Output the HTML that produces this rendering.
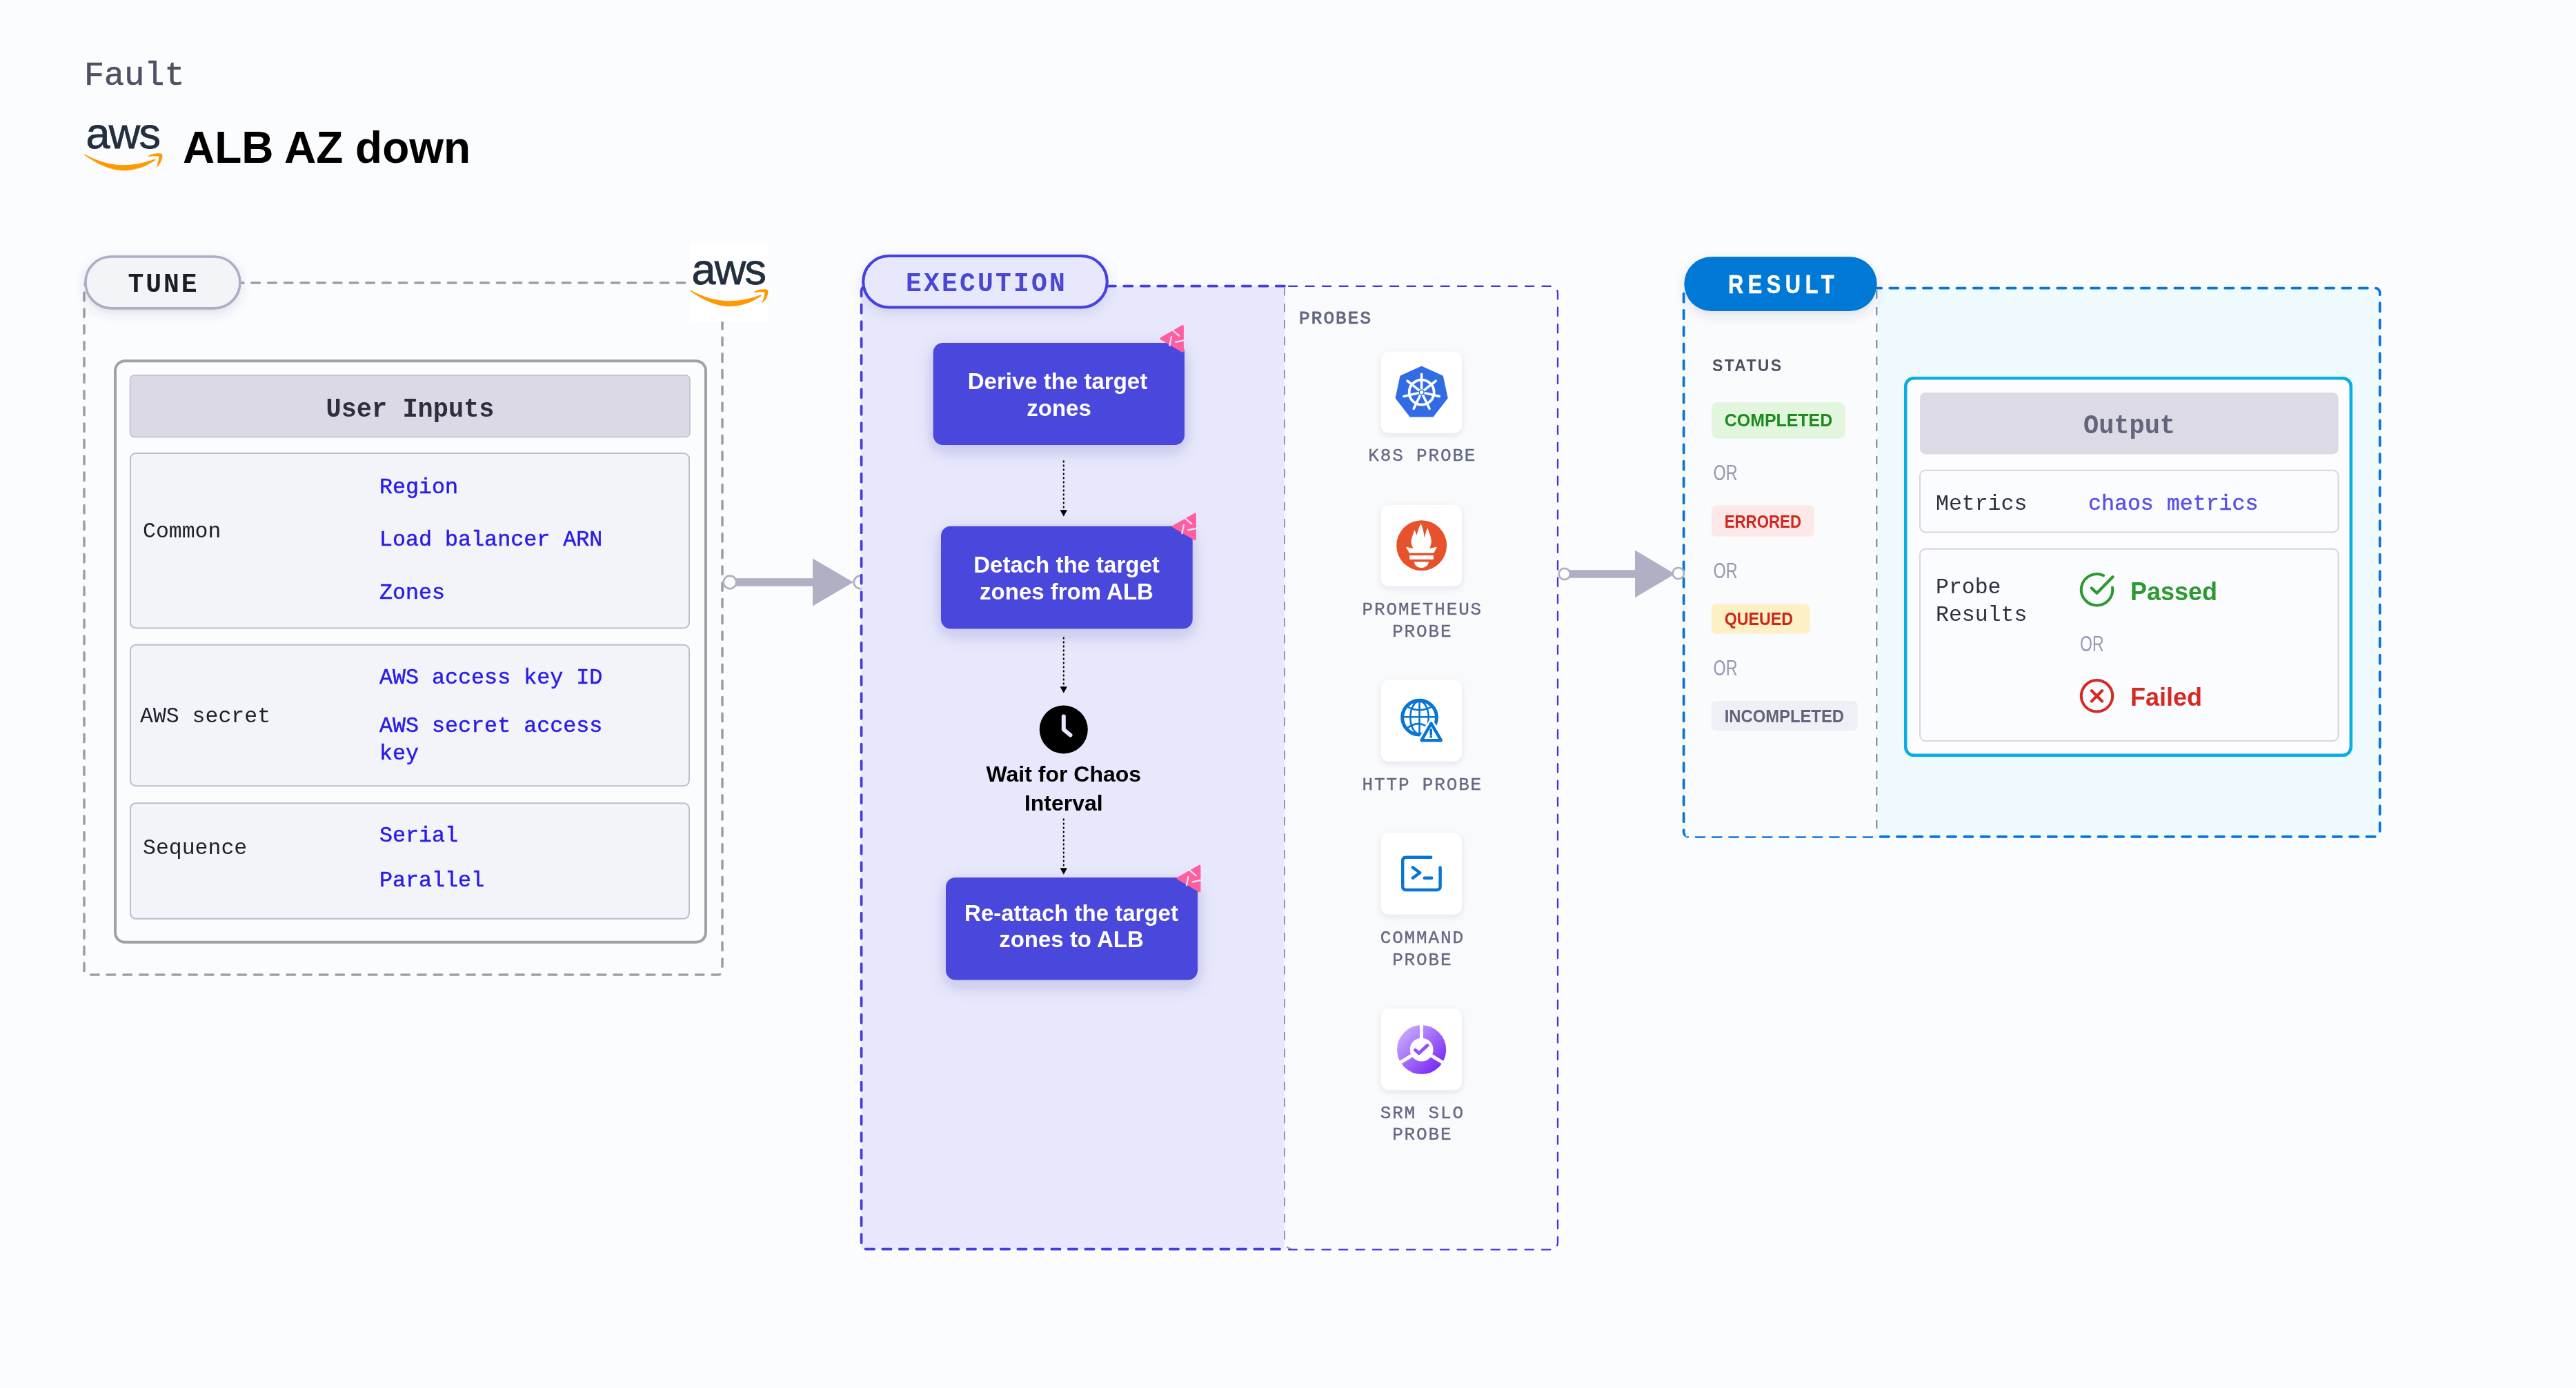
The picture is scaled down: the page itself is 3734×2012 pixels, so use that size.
<!DOCTYPE html>
<html><head><meta charset="utf-8">
<style>
html,body{margin:0;padding:0;width:3734px;height:2012px;overflow:hidden;background:#fbfcfe;}
svg{display:block;position:absolute;left:0;top:0;will-change:transform;}
.m{font-family:"Liberation Mono",monospace;}
.s{font-family:"Liberation Sans",sans-serif;}
</style></head>
<body>
<svg width="3734" height="2012" viewBox="0 0 3734 2012">
<defs>
 <filter id="sh" x="-30%" y="-30%" width="160%" height="170%">
  <feDropShadow dx="0" dy="6" stdDeviation="8" flood-color="#3a3a6a" flood-opacity="0.14"/>
 </filter>
 <filter id="shb" x="-30%" y="-30%" width="160%" height="170%">
  <feDropShadow dx="0" dy="8" stdDeviation="12" flood-color="#2a2a90" flood-opacity="0.22"/>
 </filter>
 <filter id="shc" x="-30%" y="-30%" width="160%" height="170%">
  <feDropShadow dx="0" dy="3" stdDeviation="4" flood-color="#404060" flood-opacity="0.10"/>
 </filter>
</defs>
<rect x="0" y="0" width="3734" height="2012" fill="#fbfcfe"/>

<!-- HEADER -->
<text class="m" x="122" y="123" font-size="48.5" fill="#504f63" stroke="#504f63" stroke-width="0.6">Fault</text>
<g id="awsbig">
 <text class="s" x="124.5" y="215.3" font-size="63" fill="#232f3e" letter-spacing="-1.8" stroke="#232f3e" stroke-width="0.8">aws</text>
 <g transform="translate(115,170) scale(0.061237)" fill="#ff9900">
  <path d="M120,895 C400,1100 750,1262 1040,1262 C1350,1262 1620,1140 1800,1015 C1812,1000 1795,982 1772,992 C1500,1100 1250,1130 1030,1130 C700,1130 400,1020 140,880 C125,872 110,885 120,895 Z"/>
  <path d="M1620,925 C1700,870 1800,850 1900,855 C1950,858 1972,880 1966,930 C1952,1030 1905,1120 1820,1192 C1850,1100 1878,1010 1883,955 C1886,928 1870,920 1840,920 C1760,918 1700,925 1620,935 Z"/>
 </g>
</g>
<text class="s" x="265" y="236" font-size="64" font-weight="bold" fill="#000">ALB AZ down</text>

<!-- TUNE -->
<rect x="122" y="410" width="925" height="1003" rx="6" fill="none" stroke="#9aa0a6" stroke-width="3.6" stroke-dasharray="11.5 12.2" stroke-linecap="round"/>
<rect x="123.9" y="372" width="224" height="74.8" rx="37.4" fill="#f3f4f8" stroke="#aeadc3" stroke-width="3.7" filter="url(#sh)"/>
<text class="m" x="237" y="423.2" font-size="38" font-weight="bold" fill="#1c1c24" text-anchor="middle" letter-spacing="3">TUNE</text>
<rect x="1000" y="352" width="113" height="114" fill="#ffffff"/>
<g id="awssmall">
 <use href="#awsbig" transform="translate(878,197)"/>
</g>

<rect x="167" y="523.3" width="856" height="842.5" rx="14" fill="none" stroke="#9ca2a7" stroke-width="4"/>
<rect x="188.5" y="544" width="811.5" height="89.5" rx="6" fill="#dad9e5" stroke="#bdbcd0" stroke-width="1.5"/>
<text class="m" x="472.5" y="603.5" font-size="39.5" font-weight="bold" fill="#2f2e3e" textLength="244" lengthAdjust="spacingAndGlyphs">User Inputs</text>

<rect x="189" y="657" width="810" height="253.5" rx="8" fill="#f3f4f9" stroke="#bdbccd" stroke-width="2"/>
<rect x="189" y="934.7" width="810" height="204.5" rx="8" fill="#f3f4f9" stroke="#bdbccd" stroke-width="2"/>
<rect x="189" y="1164.2" width="810" height="167.6" rx="8" fill="#f3f4f9" stroke="#bdbccd" stroke-width="2"/>
<g class="m" font-size="31.5" fill="#1f1f29">
 <text x="207" y="779">Common</text>
 <text x="203" y="1047.4">AWS secret</text>
 <text x="207" y="1237.5">Sequence</text>
</g>
<g class="m" font-size="31.7" fill="#2a1ce6" stroke="#2a1ce6" stroke-width="0.5" transform="translate(1,-0.8)">
 <text x="549" y="716">Region</text>
 <text x="549" y="792">Load balancer ARN</text>
 <text x="549" y="869">Zones</text>
 <text x="549" y="991.5">AWS access key ID</text>
 <text x="549" y="1061.6">AWS secret access</text>
 <text x="549" y="1102">key</text>
 <text x="549" y="1220.5">Serial</text>
 <text x="549" y="1286">Parallel</text>
</g>

<!-- ARROW 1 -->
<rect x="1066" y="838.2" width="114" height="11.6" fill="#b0b0c5"/>
<path d="M1178,809.5 L1237,844 L1178,878.4 Z" fill="#b0b0c5"/>
<circle cx="1058" cy="844" r="9.3" fill="#fcfcfd" stroke="#b0b0c5" stroke-width="2.7"/>
<circle cx="1247" cy="844" r="9.3" fill="#fcfcfd" stroke="#b0b0c5" stroke-width="2.7"/>

<!-- EXECUTION -->
<rect x="1248.6" y="414.6" width="613.4" height="1396" fill="#e8e8fc"/>
<rect x="1862" y="414.6" width="395.6" height="1396.1" rx="7" fill="#f9fafc"/>
<path d="M1862,414.6 L1256.6,414.6 Q1248.6,414.6 1248.6,422.6 L1248.6,1802.7 Q1248.6,1810.7 1256.6,1810.7 L1862,1810.7" fill="none" stroke="#433ddb" stroke-width="3.7" stroke-dasharray="12.3 12.2" stroke-linecap="round"/>
<path d="M1868,414.8 L2248,414.8 A10,10 0 0 1 2258,424.8 L2258,1801.4 A10,10 0 0 1 2248,1811.4 L1868,1811.4" fill="none" stroke="#3d36d8" stroke-width="2.3" stroke-dasharray="12.3 12.2" stroke-linecap="round"/>
<path d="M1862,416 L1862,1800 A10,10 0 0 0 1872,1810" fill="none" stroke="#9496a6" stroke-width="2" stroke-dasharray="12.5 11.5"/>
<rect x="1251.2" y="371" width="353.6" height="74.5" rx="37.25" fill="#e8e8fc" stroke="#4743dc" stroke-width="4.2" filter="url(#sh)"/>
<text class="m" x="1428" y="421.8" font-size="38" font-weight="bold" fill="#4a46d6" text-anchor="middle" letter-spacing="3.2" transform="translate(2,0)">EXECUTION</text>

<g filter="url(#shb)">
<rect x="1352.7" y="497" width="364.3" height="148" rx="14" fill="#4a47dc"/>
<rect x="1364" y="762.7" width="364.7" height="148.8" rx="14" fill="#4a47dc"/>
<rect x="1371" y="1272" width="365" height="148.5" rx="14" fill="#4a47dc"/>
</g>
<g class="s" font-size="33" font-weight="bold" fill="#ffffff" text-anchor="middle">
 <text x="1533" y="564">Derive the target</text>
 <text x="1535" y="603">zones</text>
 <text x="1546" y="830">Detach the target</text>
 <text x="1546" y="869">zones from ALB</text>
 <text x="1553" y="1334.6">Re-attach the target</text>
 <text x="1553" y="1373">zones to ALB</text>
</g>
<g id="pink1" transform="translate(1699.6,490.5)">
 <path d="M-16.5,0.2 L14.5,-17.5 L14.5,18.5 Z" fill="#ff5fa0" stroke="#ff5fa0" stroke-width="3.6" stroke-linejoin="round"/>
 <path d="M-2.5,-14 L9.7,-3.7 M-1.6,-2.4 L-4.2,10.5 M4.5,5.4 L18,2.6" stroke="#e6e6fb" stroke-width="2.2" stroke-linecap="round"/>
</g>
<use href="#pink1" transform="translate(18,272.5)"/>
<use href="#pink1" transform="translate(24.5,782.5)"/>

<g stroke="#000" stroke-width="2" stroke-dasharray="3 3">
 <line x1="1541.8" y1="667.5" x2="1541.8" y2="740"/>
 <line x1="1541.8" y1="923.6" x2="1541.8" y2="996"/>
 <line x1="1541.8" y1="1186.6" x2="1541.8" y2="1259"/>
</g>
<g fill="#000">
 <path d="M1536.6,739.3 L1547,739.3 L1541.8,748.8 Z"/>
 <path d="M1536.6,995.2 L1547,995.2 L1541.8,1004.7 Z"/>
 <path d="M1536.6,1258.3 L1547,1258.3 L1541.8,1267.8 Z"/>
</g>
<circle cx="1541.8" cy="1057.5" r="35" fill="#000"/>
<path d="M1541.8,1038.5 L1541.8,1057.5 L1551.5,1065.5" fill="none" stroke="#e8e8fc" stroke-width="6" stroke-linecap="round" stroke-linejoin="round"/>
<g class="s" font-size="32" font-weight="bold" fill="#000" text-anchor="middle">
 <text x="1541.8" y="1133">Wait for Chaos</text>
 <text x="1541.8" y="1175.3">Interval</text>
</g>

<!-- PROBES -->
<text class="m" x="1883" y="469.4" font-size="26" fill="#636781" stroke="#636781" stroke-width="0.9" letter-spacing="2.1">PROBES</text>
<g fill="#ffffff" filter="url(#shc)">
 <rect x="2001.7" y="509.8" width="117.3" height="118" rx="12"/>
 <rect x="2001.7" y="732" width="117.3" height="118" rx="12"/>
 <rect x="2001.7" y="985.6" width="117.3" height="118" rx="12"/>
 <rect x="2001.7" y="1207.6" width="117.3" height="118" rx="12"/>
 <rect x="2001.7" y="1462" width="117.3" height="118" rx="12"/>
</g>
<g class="m" font-size="26" fill="#646882" stroke="#646882" stroke-width="0.35" text-anchor="middle" letter-spacing="1.85" transform="translate(0,-0.8)">
 <text x="2061.8" y="669.2">K8S PROBE</text>
 <text x="2061.8" y="891.6">PROMETHEUS</text>
 <text x="2061.8" y="924">PROBE</text>
 <text x="2061.8" y="1145.9">HTTP PROBE</text>
 <text x="2061.8" y="1367.9">COMMAND</text>
 <text x="2061.8" y="1400">PROBE</text>
 <text x="2061.8" y="1621.4">SRM SLO</text>
 <text x="2061.8" y="1653">PROBE</text>
</g>
<defs>
 <linearGradient id="srmg" x1="0" y1="0" x2="1" y2="1">
  <stop offset="0" stop-color="#c6a6fd"/>
  <stop offset="1" stop-color="#7a2af6"/>
 </linearGradient>
</defs>
<!-- k8s -->
<g transform="translate(2000,508) scale(0.087896)">
 <path d="M690,270 L1035,425 L1112,785 L876,1088 L504,1088 L268,785 L345,425 Z" fill="#326ce5" stroke="#326ce5" stroke-width="22" stroke-linejoin="round"/>
 <circle cx="690" cy="690" r="205" fill="none" stroke="#fff" stroke-width="42"/>
 <circle cx="690" cy="690" r="28" fill="#fff"/>
 <g stroke="#fff" stroke-width="40" stroke-linecap="round">
  <line x1="690" y1="690" x2="690" y2="390"/>
  <line x1="690" y1="690" x2="924.5" y2="503"/>
  <line x1="690" y1="690" x2="982.5" y2="756.8"/>
  <line x1="690" y1="690" x2="820.2" y2="960.3"/>
  <line x1="690" y1="690" x2="559.8" y2="960.3"/>
  <line x1="690" y1="690" x2="397.5" y2="756.8"/>
  <line x1="690" y1="690" x2="455.5" y2="503"/>
 </g>
 <circle cx="690" cy="690" r="48" fill="#326ce5"/>
 <circle cx="690" cy="690" r="30" fill="#fff"/>
</g>
<!-- prometheus -->
<g transform="translate(2000,730) scale(0.087896)">
 <circle cx="690" cy="692" r="415" fill="#e6522c"/>
 <path d="M430,715 L555,740 C515,680 510,620 530,560 C545,510 565,470 570,430 C590,470 605,500 608,530 C625,450 650,380 680,330 C710,400 730,480 735,570 C750,500 770,450 785,400 C815,470 850,550 850,620 C850,670 835,710 820,740 L945,715 L890,815 L490,815 Z" fill="#fff"/>
 <rect x="492" y="855" width="393" height="66" fill="#fff"/>
 <path d="M568,960 L806,960 A119,100 0 0 1 568,960 Z" fill="#fff"/>
</g>
<!-- web probe -->
<g transform="translate(2000,984) scale(0.087896)" fill="none" stroke="#0675d3" stroke-linecap="round">
 <circle cx="655" cy="638" r="283" stroke-width="56"/>
 <ellipse cx="655" cy="638" rx="150" ry="270" stroke-width="30"/>
 <line x1="655" y1="380" x2="655" y2="900" stroke-width="30"/>
 <line x1="385" y1="628" x2="930" y2="628" stroke-width="30"/>
 <path d="M475,470 Q655,560 835,470" stroke-width="30"/>
 <path d="M470,800 Q620,700 745,770" stroke-width="30"/>
 <path d="M848,690 L640,1045 L1070,1045 Z" fill="#fff" stroke="#fff" stroke-width="60" stroke-linejoin="round"/>
 <path d="M848,735 L688,1015 L1010,1015 Z" fill="#fff" stroke-width="50" stroke-linejoin="round"/>
 <line x1="845" y1="840" x2="845" y2="915" stroke-width="40"/>
 <circle cx="845" cy="955" r="12" stroke-width="20" fill="#0675d3"/>
</g>
<!-- command -->
<g transform="translate(2000,1206) scale(0.087896)" fill="none" stroke="#0675d3" stroke-width="50" stroke-linecap="round" stroke-linejoin="round">
 <path d="M845,418 L435,418 Q378,418 378,475 L378,900 Q378,955 435,955 L940,955 Q997,955 997,900 L997,585"/>
 <path d="M545,585 L662,672 L545,760"/>
 <path d="M738,760 L855,760"/>
</g>
<!-- srm -->
<g transform="translate(2000,1460) scale(0.087896)">
 <circle cx="690" cy="700" r="298" fill="none" stroke="url(#srmg)" stroke-width="212"/>
 <g stroke="#fff" stroke-width="58">
  <line x1="688" y1="700" x2="688" y2="250"/>
  <line x1="688" y1="700" x2="300" y2="935"/>
  <line x1="688" y1="700" x2="1076" y2="935"/>
 </g>
 <path d="M585,705 L645,760 L785,630" fill="none" stroke="#9152f8" stroke-width="55" stroke-linecap="round" stroke-linejoin="round"/>
</g>


<!-- ARROW 2 -->
<rect x="2276" y="826.2" width="96" height="11.6" fill="#b0b0c5"/>
<path d="M2370,797.5 L2428,832 L2370,866.2 Z" fill="#b0b0c5"/>
<circle cx="2267.8" cy="832" r="8.2" fill="#fefefe" stroke="#b0b0c5" stroke-width="2.8"/>
<!-- RESULT -->
<rect x="2440.6" y="417.6" width="1009.1" height="795.2" rx="7" fill="#effafe"/>
<rect x="2440.6" y="417.6" width="1009.1" height="795.2" rx="7" fill="none" stroke="#0a74d4" stroke-width="3.7" stroke-dasharray="12.3 12" stroke-linecap="round"/>
<rect x="2443.6" y="419.5" width="276.9" height="792.8" fill="#fafbfd"/>
<line x1="2720.5" y1="421" x2="2720.5" y2="1212" stroke="#5f6075" stroke-width="1.6" stroke-dasharray="12 12"/>
<rect x="2441.3" y="372.2" width="279.4" height="78.7" rx="39.3" fill="#0278d5" filter="url(#sh)"/>
<g transform="translate(2585,0) scale(0.82,1)"><text class="s" x="0" y="425.1" font-size="37.5" font-weight="bold" fill="#ffffff" stroke="#ffffff" stroke-width="0.5" text-anchor="middle" letter-spacing="8">RESULT</text></g>
<text class="s" x="2482" y="537.8" font-size="23" font-weight="bold" fill="#4f4e61" letter-spacing="2.3">STATUS</text>
<rect x="2481.2" y="583.2" width="193.4" height="52.5" rx="8" fill="#e2f6de"/>
<rect x="2481" y="732.8" width="149" height="44.9" rx="6" fill="#fde8e8"/>
<rect x="2481" y="875.2" width="142.7" height="43.2" rx="6" fill="#fdf0c4"/>
<rect x="2481" y="1016" width="211.6" height="43.3" rx="6" fill="#efeff6"/>
<g class="s" font-size="25" font-weight="bold">
 <text x="2499.8" y="617.8" fill="#1e8a1f" textLength="156.4" lengthAdjust="spacingAndGlyphs">COMPLETED</text>
 <text x="2499.7" y="764.6" fill="#d0281f" textLength="111.3" lengthAdjust="spacingAndGlyphs">ERRORED</text>
 <text x="2499.7" y="905.8" fill="#c8281b" textLength="99.3" lengthAdjust="spacingAndGlyphs">QUEUED</text>
 <text x="2499.7" y="1047" fill="#62637a" textLength="173.3" lengthAdjust="spacingAndGlyphs">INCOMPLETED</text>
</g>
<g class="s" font-size="32" fill="#9897b3">
 <text x="2483.5" y="695.6" textLength="35" lengthAdjust="spacingAndGlyphs">OR</text>
 <text x="2483.5" y="838.2" textLength="35" lengthAdjust="spacingAndGlyphs">OR</text>
 <text x="2483.5" y="978.6" textLength="35" lengthAdjust="spacingAndGlyphs">OR</text>
</g>

<circle cx="2432.8" cy="831" r="8.2" fill="#fefefe" stroke="#b0b0c5" stroke-width="2.8"/>
<!-- OUTPUT -->
<rect x="2762.2" y="548.2" width="645.6" height="546.6" rx="12" fill="#fdfdff" stroke="#0aaee4" stroke-width="4.5"/>
<rect x="2783" y="569" width="606.6" height="89.4" rx="8" fill="#dcdbe5"/>
<text class="m" x="3020" y="627.8" font-size="39.5" font-weight="bold" fill="#62637c" textLength="133" lengthAdjust="spacingAndGlyphs">Output</text>
<rect x="2783" y="681.8" width="606.6" height="89.6" rx="8" fill="#fbfcff" stroke="#d6d5e1" stroke-width="2"/>
<rect x="2783" y="795.7" width="606.6" height="278.3" rx="8" fill="#fbfcff" stroke="#d6d5e1" stroke-width="2"/>
<g class="m" font-size="31.5" fill="#2f2e3f">
 <text x="2806" y="739">Metrics</text>
 <text x="2806" y="860">Probe</text>
 <text x="2806" y="900.4">Results</text>
</g>
<text class="m" x="3027" y="739" font-size="31.6" fill="#5b50e2" stroke="#5b50e2" stroke-width="0.5">chaos metrics</text>
<path d="M3062,851.6 A22.7,22.7 0 1 1 3049.1,834.2" fill="none" stroke="#2a9a2e" stroke-width="4" stroke-linecap="round"/>
<path d="M3031.7,852.4 L3039.5,859.7 L3062.5,836.2" fill="none" stroke="#2a9a2e" stroke-width="4.2" stroke-linecap="round" stroke-linejoin="round"/>
<circle cx="3039.5" cy="1008.8" r="22.7" fill="none" stroke="#d42a23" stroke-width="4"/>
<path d="M3031.9,1001.2 L3047.1,1016.4 M3047.1,1001.2 L3031.9,1016.4" fill="none" stroke="#d42a23" stroke-width="4.2" stroke-linecap="round"/>
<g class="s" font-size="36" font-weight="bold">
 <text x="3088" y="869.5" fill="#2d9a31">Passed</text>
 <text x="3088" y="1023" fill="#d42a23">Failed</text>
</g>
<text class="s" x="3015" y="944" font-size="32" fill="#9897b3" textLength="34.5" lengthAdjust="spacingAndGlyphs">OR</text>


</svg>
</body></html>
